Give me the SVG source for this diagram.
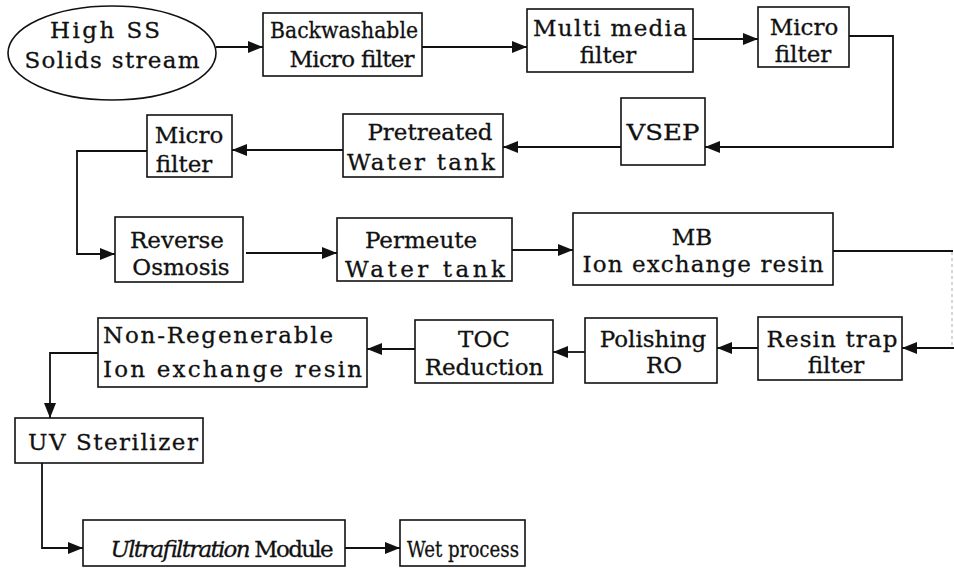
<svg xmlns="http://www.w3.org/2000/svg" width="954" height="569" viewBox="0 0 954 569">
<style>
.box{fill:#fff;stroke:#111;stroke-width:1.6}
.t{font-family:"DejaVu Serif","Liberation Serif",serif;font-size:23px;fill:#111;stroke:#111;stroke-width:0.3;text-anchor:middle}
.ts{font-family:"DejaVu Serif","Liberation Serif",serif;font-size:23px;fill:#111;stroke:#111;stroke-width:0.3;text-anchor:start}
.c{fill:none;stroke:#111;stroke-width:1.8}
.faint{fill:none;stroke:#bbb;stroke-width:1.2;stroke-dasharray:3 3}
</style>
<defs>
<marker id="ah" markerUnits="userSpaceOnUse" markerWidth="16" markerHeight="12" refX="15" refY="6" orient="auto">
<path d="M0,0 L15,6 L0,12 z" fill="#111"/>
</marker>
</defs>
<rect width="954" height="569" fill="#fff"/>
<g id="connectors">
<line class="c" x1="216" y1="47" x2="263" y2="47" marker-end="url(#ah)"/>
<line class="c" x1="422" y1="47" x2="527" y2="47" marker-end="url(#ah)"/>
<line class="c" x1="693" y1="39" x2="758" y2="39" marker-end="url(#ah)"/>
<polyline class="c" points="849,36 893,36 893,147 705,147" marker-end="url(#ah)"/>
<line class="c" x1="621" y1="147" x2="503" y2="147" marker-end="url(#ah)"/>
<line class="c" x1="343" y1="150" x2="232" y2="150" marker-end="url(#ah)"/>
<polyline class="c" points="147,151 77,151 77,254 115,254" marker-end="url(#ah)"/>
<line class="c" x1="246" y1="253" x2="337" y2="253" marker-end="url(#ah)"/>
<line class="c" x1="512" y1="250" x2="573" y2="250" marker-end="url(#ah)"/>
<polyline class="c" points="833,251 953,251"/>
<line class="faint" x1="952" y1="252" x2="952" y2="348"/>
<line class="c" x1="954" y1="348" x2="902" y2="348" marker-end="url(#ah)"/>
<line class="c" x1="758" y1="348" x2="717" y2="348" marker-end="url(#ah)"/>
<line class="c" x1="585" y1="352" x2="553" y2="352" marker-end="url(#ah)"/>
<line class="c" x1="415" y1="349" x2="367" y2="349" marker-end="url(#ah)"/>
<polyline class="c" points="98,353 50,353 50,418" marker-end="url(#ah)"/>
<polyline class="c" points="42,463 42,548 83,548" marker-end="url(#ah)"/>
<line class="c" x1="345" y1="548" x2="400" y2="548" marker-end="url(#ah)"/>
</g>
<g id="n-high-ss">
<ellipse class="box" cx="112" cy="53" rx="104" ry="47"/>
<text class="t" x="105" y="38" textLength="110" lengthAdjust="spacing">High SS</text>
<text class="t" x="112" y="68" textLength="175" lengthAdjust="spacing">Solids stream</text>
</g>
<g id="n-backwash">
<rect class="box" x="263" y="13" width="159" height="63"/>
<text class="t" x="344" y="38" textLength="148" lengthAdjust="spacingAndGlyphs">Backwashable</text>
<text class="t" x="352" y="67" textLength="125" lengthAdjust="spacing">Micro filter</text>
</g>
<g id="n-multimedia">
<rect class="box" x="527" y="9" width="166" height="63"/>
<text class="t" x="610" y="36" textLength="154" lengthAdjust="spacing">Multi media</text>
<text class="t" x="608" y="63">filter</text>
</g>
<g id="n-micro1">
<rect class="box" x="758" y="7" width="91" height="60"/>
<text class="t" x="804" y="35">Micro</text>
<text class="t" x="803" y="62">filter</text>
</g>
<g id="n-vsep">
<rect class="box" x="621" y="98" width="84" height="67"/>
<text class="t" x="663" y="140" textLength="73" lengthAdjust="spacingAndGlyphs">VSEP</text>
</g>
<g id="n-pretreated">
<rect class="box" x="343" y="114" width="160" height="63"/>
<text class="t" x="430" y="140">Pretreated</text>
<text class="t" x="421" y="170" textLength="148" lengthAdjust="spacing">Water tank</text>
</g>
<g id="n-micro2">
<rect class="box" x="147" y="115" width="85" height="62"/>
<text class="t" x="189" y="143">Micro</text>
<text class="t" x="184" y="172">filter</text>
</g>
<g id="n-ro">
<rect class="box" x="115" y="217" width="128" height="65"/>
<text class="t" x="177" y="248">Reverse</text>
<text class="t" x="181" y="275">Osmosis</text>
</g>
<g id="n-permeute">
<rect class="box" x="337" y="218" width="175" height="63"/>
<text class="t" x="421" y="248">Permeute</text>
<text class="t" x="425" y="277" textLength="160" lengthAdjust="spacing">Water tank</text>
</g>
<g id="n-mb">
<rect class="box" x="573" y="213" width="260" height="72"/>
<text class="t" x="692" y="245">MB</text>
<text class="t" x="703" y="272" textLength="241" lengthAdjust="spacing">Ion exchange resin</text>
</g>
<g id="n-resintrap">
<rect class="box" x="758" y="317" width="144" height="63"/>
<text class="t" x="832" y="347" textLength="131" lengthAdjust="spacing">Resin trap</text>
<text class="t" x="836" y="373">filter</text>
</g>
<g id="n-polishing">
<rect class="box" x="585" y="318" width="132" height="65"/>
<text class="t" x="653" y="347">Polishing</text>
<text class="t" x="664" y="373">RO</text>
</g>
<g id="n-toc">
<rect class="box" x="415" y="320" width="138" height="63"/>
<text class="t" x="484" y="347">TOC</text>
<text class="t" x="484" y="375">Reduction</text>
</g>
<g id="n-nonregen">
<rect class="box" x="98" y="318" width="269" height="69"/>
<text class="ts" x="103" y="343" textLength="230" lengthAdjust="spacing">Non-Regenerable</text>
<text class="ts" x="103" y="377" textLength="259" lengthAdjust="spacing">Ion exchange resin</text>
</g>
<g id="n-uv">
<rect class="box" x="15" y="418" width="188" height="45"/>
<text class="t" x="113" y="450" textLength="170" lengthAdjust="spacing">UV Sterilizer</text>
</g>
<g id="n-uf">
<rect class="box" x="83" y="520" width="262" height="46"/>
<text class="t" x="222" y="557" textLength="223" lengthAdjust="spacing"><tspan font-style="italic">Ultrafiltration</tspan> Module</text>
</g>
<g id="n-wet">
<rect class="box" x="400" y="520" width="125" height="46"/>
<text class="t" x="463" y="557" textLength="112" lengthAdjust="spacingAndGlyphs">Wet process</text>
</g>
</svg>
